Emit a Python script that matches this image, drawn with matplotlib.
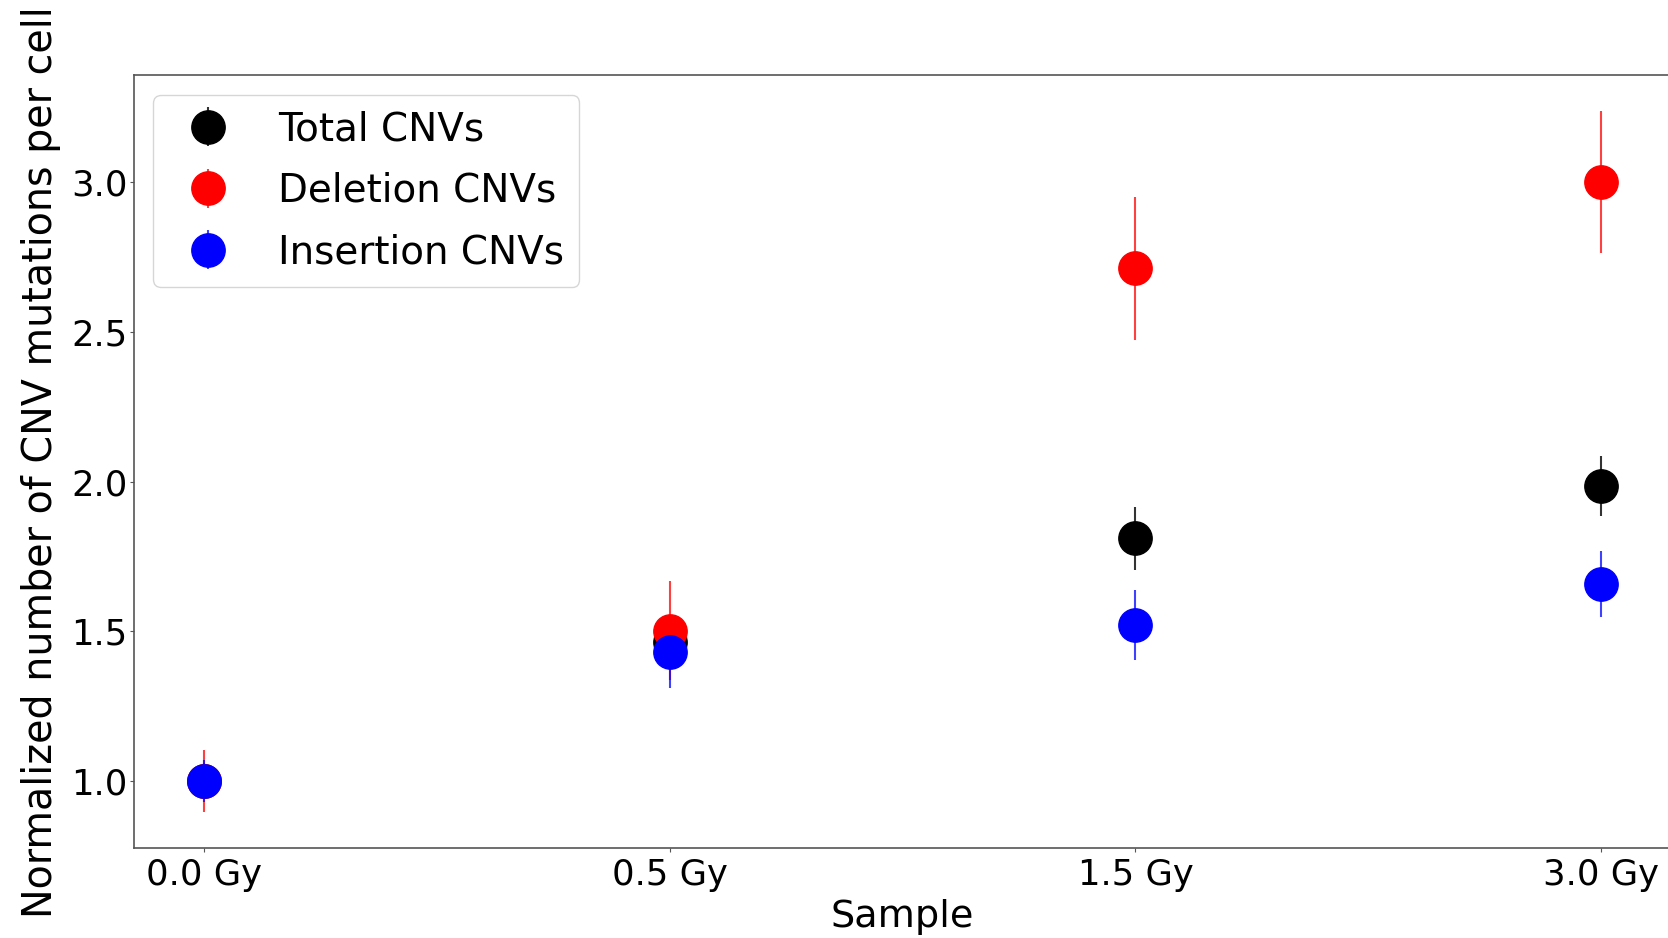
import matplotlib
matplotlib.use("Agg")
import matplotlib.pyplot as plt

samples = ["0.0 Gy", "0.5 Gy", "1.5 Gy", "3.0 Gy"]
total_vals = [1.0, 1.465, 1.81, 1.985]
total_err = [0.06, 0.09, 0.105, 0.10]
del_vals = [1.0, 1.502, 2.712, 3.0]
del_err = [0.103, 0.165, 0.238, 0.236]
ins_vals = [1.0, 1.432, 1.52, 1.659]
ins_err = [0.07, 0.12, 0.117, 0.11]

W, H = 1668, 938
fig = plt.figure(figsize=(W / 100, H / 100), dpi=100)
ax = fig.add_axes([134 / W, (H - 848) / H, (1671 - 134) / W, (848 - 75.5) / H])

x = list(range(len(samples)))
ms = 24
ax.errorbar(x, total_vals, yerr=total_err, fmt='o', color='black', ms=ms,
            ecolor=(0, 0, 0, 0.8), elinewidth=1.5, label='Total CNVs')
ax.errorbar(x, del_vals, yerr=del_err, fmt='o', color='red', ms=ms,
            ecolor=(1, 0, 0, 0.75), elinewidth=1.5, label='Deletion CNVs')
ax.errorbar(x, ins_vals, yerr=ins_err, fmt='o', color='blue', ms=ms,
            ecolor=(0, 0, 1, 0.75), elinewidth=1.5, label='Insertion CNVs')

ax.set_xticks(x)
ax.set_xticklabels(samples)
ax.set_yticks([1.0, 1.5, 2.0, 2.5, 3.0])
ax.set_xlim(-0.15, 3.15)
ax.set_ylim(0.776, 3.356)
ax.tick_params(axis='both', labelsize=25.5, length=3, color='#555555')
ax.tick_params(axis='x', pad=4)
ax.tick_params(axis='y', pad=1.5)
for s in ax.spines.values():
    s.set_color('#555555')
    s.set_linewidth(1.2)

ax.set_xlabel("Sample", fontsize=27.5, labelpad=5)
ax.set_ylabel("Normalized number of CNV mutations per cell", fontsize=28.5, labelpad=7.5)
ax.legend(loc='upper left', fontsize=28, numpoints=1, labelspacing=0.6)

fig.savefig("out.png", dpi=100)
